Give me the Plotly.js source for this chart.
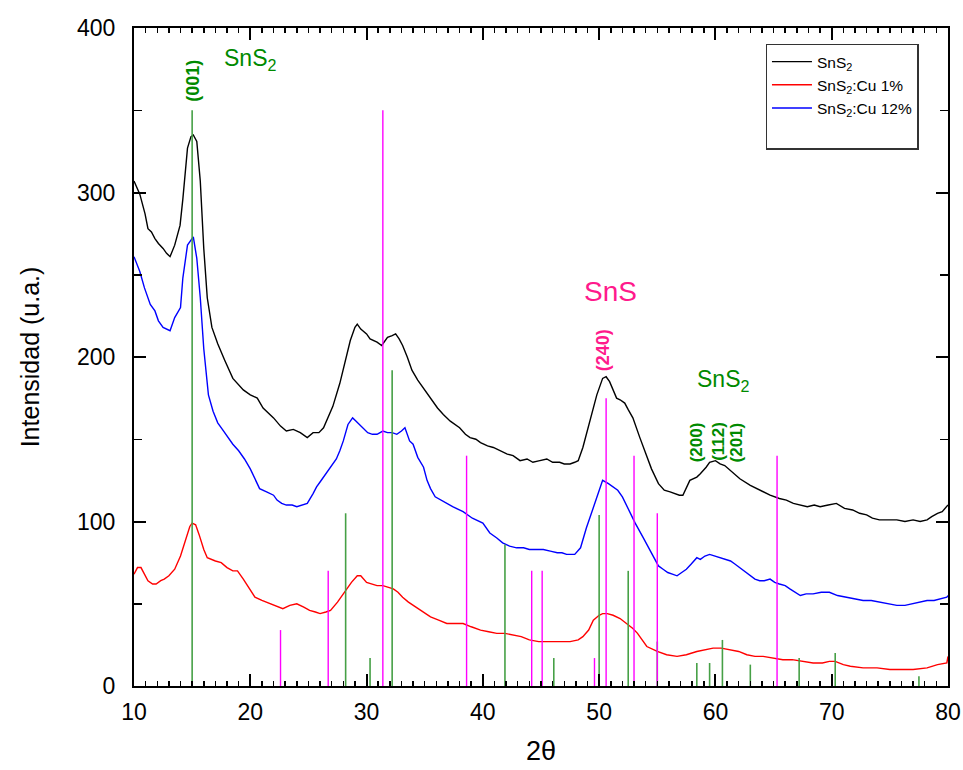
<!DOCTYPE html>
<html>
<head>
<meta charset="utf-8">
<script src="https://cdn.plot.ly/plotly-3.0.1.min.js"></script>
<style>html,body{margin:0;padding:0;background:#fff;}#chart{width:963px;height:770px;}</style>
</head>
<body>
<div id="chart"></div>
<script>
// ---- Data ----
const snS2X = [10.0,10.5,10.95,11.2,11.5,11.8,12.1,12.5,12.8,13.1,13.5,13.96,14.2,14.6,14.9,15.1,15.4,15.7,16.0,16.3,16.7,17.2,17.8,18.5,19.4,20.0,20.6,21.1,22.0,22.6,23.1,23.7,24.3,24.9,25.4,25.9,26.3,26.7,27.1,27.7,28.2,28.6,29.0,29.2,29.5,29.7,30.0,30.3,30.9,31.3,31.8,32.2,32.5,32.8,33.1,33.5,33.9,34.4,34.9,35.5,36.1,36.6,37.2,38.0,38.5,38.9,39.4,39.8,40.4,40.9,41.5,42.1,42.6,43.2,43.8,44.3,44.9,45.5,46.0,46.6,47.0,47.5,47.9,48.2,48.6,49.2,49.8,50.3,50.6,50.9,51.2,51.5,51.8,52.2,52.5,52.9,53.5,54.0,54.5,55.1,55.6,56.1,56.5,56.9,57.2,57.5,57.8,58.4,58.7,59.2,59.5,60.0,60.4,60.8,61.3,62.1,63.0,63.8,64.7,65.5,66.1,66.7,67.3,67.9,68.5,69.0,69.7,70.4,71.1,71.8,72.4,73.0,73.5,74.1,74.8,75.6,76.3,77.0,77.6,78.2,78.6,79.1,79.5,79.9,80.0];
const snS2Y = [307,299,287,278,276,272,269,266,263,261,268,280,296,327,334,335,331,307,266,236,218,208,198,187,180,177,175,169,163,158,155,156,154,151,154,154,157,163,170,184,198,210,218,220,217,216,214,211,209,207,212,213,214,211,207,200,192,186,181,175,169,165,161,157,153,151,150,148,146,145,143,141,140,137,138,136,137,138,136,136,135,135,136,137,145,161,177,187,188,185,180,175,174,172,168,163,151,142,132,123,119,118,117,116,116,121,125,127,129,133,136,137,135,134,131,126,122,119,116,114,113,111,110,109,110,109,110,111,108,107,105,104,102,101,101,101,100,101,100,101,103,105,106,109,110];

const cu1X = [10.0,10.3,10.6,10.9,11.2,11.6,11.9,12.3,12.6,13.0,13.5,14.0,14.5,14.8,15.0,15.3,15.6,16.0,16.3,16.6,17.0,17.5,18.0,18.5,18.9,19.4,20.0,20.4,21.0,21.7,22.3,22.8,23.4,24.0,24.6,25.1,25.6,26.0,26.5,26.9,27.5,28.0,28.7,29.2,29.5,30.0,30.5,30.9,31.4,31.8,32.3,32.7,33.1,33.6,34.0,34.6,35.0,35.5,36.2,36.9,37.6,38.3,39.0,39.8,40.5,41.2,41.9,42.6,43.3,44.0,44.8,45.5,46.5,47.5,48.2,48.6,49.1,49.5,50.0,50.3,50.7,51.2,51.8,52.4,52.9,53.3,53.7,54.1,55.0,55.8,56.7,57.5,58.4,59.1,59.8,60.5,61.2,62.0,62.7,63.4,64.1,65.0,65.8,66.6,67.5,68.4,69.2,69.8,70.3,71.0,71.6,72.7,73.9,75.0,76.1,77.0,78.2,78.7,79.1,79.9,80.0];
const cu1Y = [68,72,72,68,64,62,62,64,65,67,71,79,90,97,99,98,92,83,78,77,76,75,72,70,70,65,58,54,52,50,48,47,49,50,48,46,45,44,45,46,51,56,63,67,67,63,62,61,61,60,59,57,54,51,49,46,44,42,40,38,38,38,36,34,33,32,32,31,30,28,27,27,27,27,28,30,34,40,43,44,44,43,41,38,35,32,28,24,21,19,18,19,21,22,23,23,22,21,19,18,18,17,16,16,15,14,14,15,15,13,12,11,11,10,10,10,11,12,13,14,18];

const cu12X = [10.0,10.5,10.9,11.4,11.8,12.1,12.5,12.8,13.1,13.5,14.0,14.2,14.6,14.9,15.1,15.4,15.7,16.0,16.4,16.8,17.2,17.6,18.0,18.5,19.0,19.5,20.0,20.4,20.8,21.4,22.0,22.3,22.7,23.1,23.6,24.0,24.5,24.9,25.4,25.7,26.0,26.4,26.7,27.0,27.4,27.7,28.0,28.4,28.8,29.1,29.4,29.8,30.1,30.5,30.9,31.4,31.8,32.2,32.6,33.0,33.3,33.7,34.0,34.4,34.9,35.2,35.5,35.9,36.6,37.4,38.3,39.1,40.0,40.6,41.2,41.7,42.3,42.9,43.5,44.0,44.6,45.2,45.8,46.4,46.8,47.2,47.9,48.4,48.9,49.6,50.0,50.3,50.8,51.2,51.6,52.0,52.4,53.1,53.8,54.4,55.1,55.5,55.9,56.3,56.7,57.1,57.5,57.9,58.4,58.7,59.1,59.5,60.0,60.4,60.8,61.3,61.7,62.1,62.5,63.0,63.4,63.8,64.2,64.7,65.1,65.5,66.0,66.4,66.9,67.3,67.8,68.4,69.1,69.8,70.5,71.3,72.0,72.7,73.4,74.1,74.8,75.6,76.3,77.0,77.6,78.2,78.8,79.3,79.9,80.0];
const cu12Y = [261,252,242,232,228,222,218,217,216,224,230,248,268,271,273,260,236,205,177,167,160,156,152,147,143,138,132,126,120,118,116,113,111,110,110,109,110,111,117,121,124,128,131,134,138,143,149,159,163,161,159,156,154,153,153,155,154,154,153,155,157,149,147,139,133,125,120,115,112,109,106,102,99,93,90,87,85,84,84,83,83,83,82,81,81,80,80,84,96,111,119,125,123,121,119,115,109,99,90,82,73,71,69,68,67,69,71,74,78,77,79,80,79,78,77,76,74,72,70,67,65,64,64,65,63,62,61,59,57,55,56,56,57,57,55,54,53,52,52,51,50,49,49,50,51,52,52,53,54,55];

// Reference pattern lines (2θ position, intensity)
const refSnS2Pos = [15.0,28.2,30.3,32.2,41.9,46.1,50.0,52.5,55.0,58.4,59.5,60.6,63.0,67.2,70.3,77.5];
const refSnS2Int = [350,105,17,192,86,17,104,70,27,14,14,28,13,17,20,6];
const refSnSPos = [22.6,26.7,31.4,38.6,44.2,45.1,49.6,50.6,53.0,55.0,65.3];
const refSnSInt = [34,70,350,140,70,70,17,175,140,105,140];

const seriesNames = ['SnS<sub>2</sub>','SnS<sub>2</sub>:Cu 1%','SnS<sub>2</sub>:Cu 12%'];

function sticks(pos, inten){
  const x=[], y=[];
  pos.forEach((p,i)=>{ x.push(p,p,null); y.push(0,inten[i],null); });
  return {x,y};
}
const gS = sticks(refSnS2Pos, refSnS2Int);
const mS = sticks(refSnSPos, refSnSInt);

const FONT = 'Liberation Sans, Arial, sans-serif';
const NARROW = 'Liberation Sans Narrow, Arial Narrow, Liberation Sans, Arial, sans-serif';

const traces = [
  {x:snS2X, y:snS2Y, type:'scatter', mode:'lines', name:seriesNames[0], line:{color:'#000000', width:1.4}},
  {x:cu1X, y:cu1Y, type:'scatter', mode:'lines', name:seriesNames[1], line:{color:'#ff0000', width:1.4}},
  {x:cu12X, y:cu12Y, type:'scatter', mode:'lines', name:seriesNames[2], line:{color:'#0000ff', width:1.4}},
  {x:[null], y:[null], type:'scatter', mode:'lines', name:' ', line:{color:'rgba(0,0,0,0)', width:1}},
  {x:gS.x, y:gS.y, type:'scatter', mode:'lines', showlegend:false, line:{color:'rgb(70,160,70)', width:1.6}, hoverinfo:'skip'},
  {x:mS.x, y:mS.y, type:'scatter', mode:'lines', showlegend:false, line:{color:'#ff00ff', width:1.4}, hoverinfo:'skip'}
];

const green = '#008a00';
const pink = '#ff1a8c';
const annotations = [
  {x:15.0, y:368, text:'<b>(001)</b>', textangle:-90, showarrow:false, font:{family:FONT, size:18, color:green}, xanchor:'center', yanchor:'middle'},
  {x:17.55, y:381, text:'SnS<sub>2</sub>', showarrow:false, font:{family:FONT, size:23, color:green}, xanchor:'left', yanchor:'middle'},
  {x:51.0, y:240, text:'SnS', showarrow:false, font:{family:FONT, size:28, color:pink}, xanchor:'center', yanchor:'middle'},
  {x:50.4, y:204, text:'<b>(240)</b>', textangle:-90, showarrow:false, font:{family:FONT, size:18, color:pink}, xanchor:'center', yanchor:'middle'},
  {x:58.2, y:186, text:'SnS<sub>2</sub>', showarrow:false, font:{family:FONT, size:23, color:green}, xanchor:'left', yanchor:'middle'},
  {x:58.4, y:148, text:'<b>(200)</b>', textangle:-90, showarrow:false, font:{family:FONT, size:17, color:green}, xanchor:'center', yanchor:'middle'},
  {x:60.3, y:149, text:'<b>(112)</b>', textangle:-90, showarrow:false, font:{family:FONT, size:17, color:green}, xanchor:'center', yanchor:'middle'},
  {x:61.85, y:148, text:'<b>(201)</b>', textangle:-90, showarrow:false, font:{family:FONT, size:17, color:green}, xanchor:'center', yanchor:'middle'}
];

const layout = {
  width:963, height:770,
  margin:{l:134, r:15, t:28, b:84},
  paper_bgcolor:'#ffffff', plot_bgcolor:'#ffffff',
  showlegend:true,
  legend:{x:0.776, y:0.976, xanchor:'left', yanchor:'top', bgcolor:'#ffffff', bordercolor:'#333333', borderwidth:1.3,
          font:{family:FONT, size:15.5, color:'#000'}, itemwidth:40, tracegroupgap:0},
  xaxis:{range:[10,80], tick0:10, dtick:10, ticks:'inside', ticklen:12, tickwidth:2, tickcolor:'#000',
         showline:true, linewidth:2, linecolor:'#000', mirror:'allticks', showgrid:false, zeroline:false,
         minor:{dtick:1, ticks:'inside', ticklen:5, tickwidth:1.5, tickcolor:'#000', showgrid:false},
         tickfont:{family:NARROW, size:23, color:'#000'}, ticklabelstandoff:4,
         title:{text:'2θ', font:{family:NARROW, size:27, color:'#000'}, standoff:18}},
  yaxis:{range:[0,400], tick0:0, dtick:100, ticks:'inside', ticklen:12, tickwidth:2, tickcolor:'#000',
         showline:true, linewidth:2, linecolor:'#000', mirror:'allticks', showgrid:false, zeroline:false,
         minor:{dtick:50, ticks:'inside', ticklen:8, tickwidth:1.5, tickcolor:'#000', showgrid:false},
         tickfont:{family:NARROW, size:23, color:'#000'}, ticklabelstandoff:12,
         title:{text:'Intensidad (u.a.)', font:{family:FONT, size:25, color:'#000'}, standoff:30}},
  annotations:annotations
};

Plotly.newPlot('chart', traces, layout, {displayModeBar:false, staticPlot:true});
</script>
</body>
</html>
